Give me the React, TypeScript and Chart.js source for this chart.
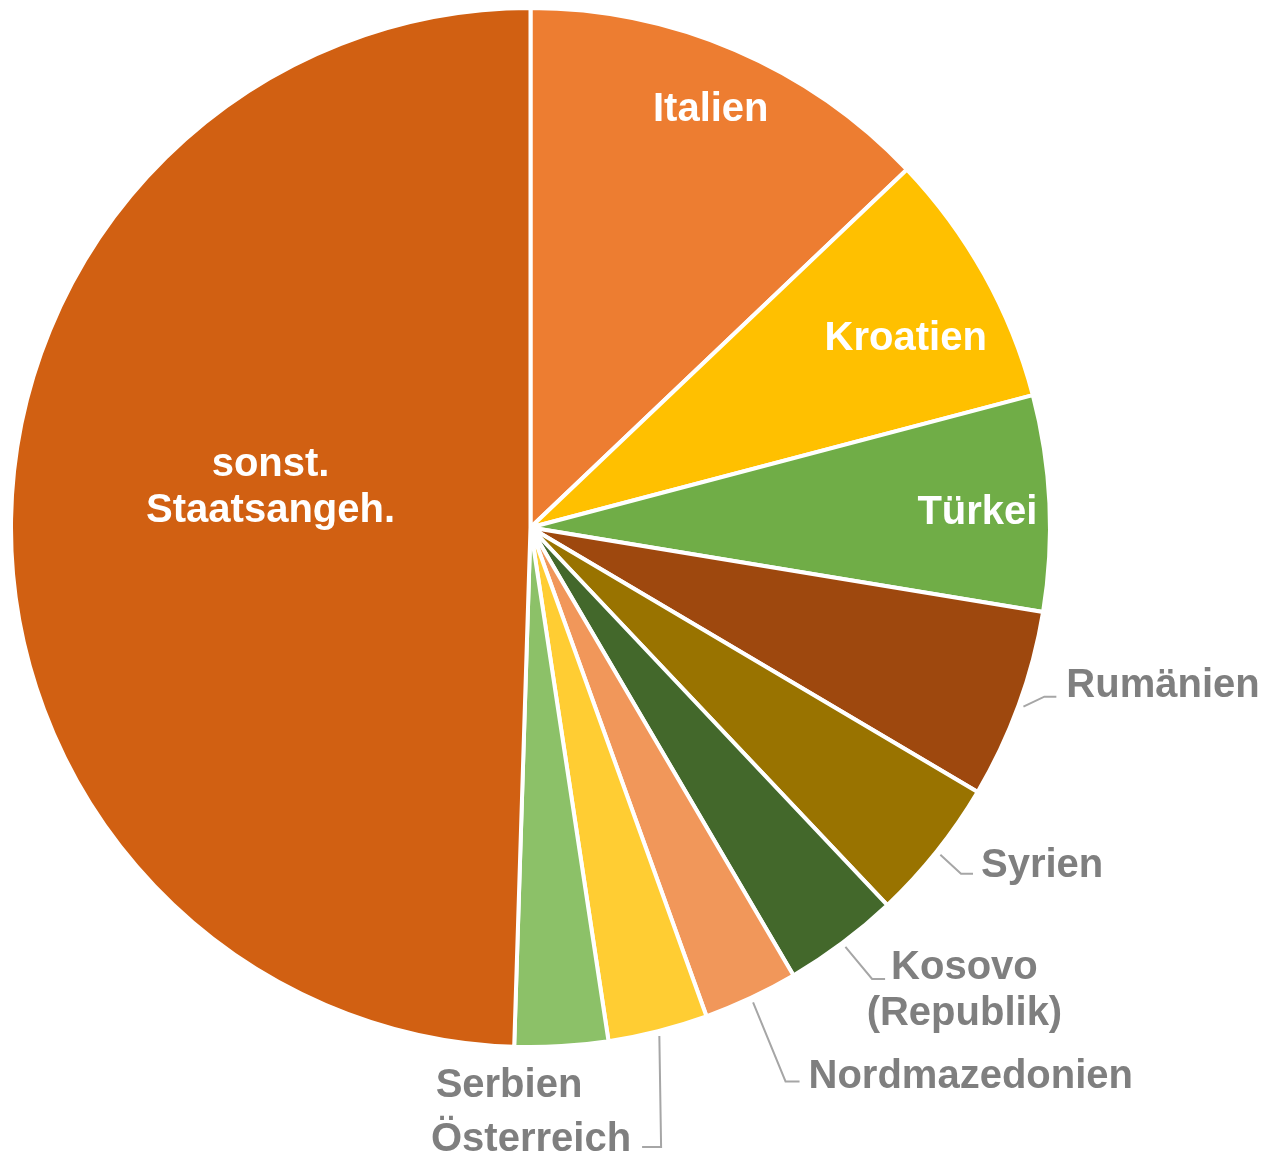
import React, { useEffect, useRef } from "react";
import { Chart, registerables } from "chart.js";

Chart.register(...registerables);

// ---- data ----
const categories = [
  "Italien",
  "Kroatien",
  "Türkei",
  "Rumänien",
  "Syrien",
  "Kosovo (Republik)",
  "Nordmazedonien",
  "Österreich",
  "Serbien",
  "sonst. Staatsangeh.",
];
const labelLines = [
  ["Italien"],
  ["Kroatien"],
  ["Türkei"],
  ["Rumänien"],
  ["Syrien"],
  ["Kosovo", "(Republik)"],
  ["Nordmazedonien"],
  ["Österreich"],
  ["Serbien"],
  ["sonst.", "Staatsangeh."],
];
const shares = [12.9, 8.0, 6.7, 5.9, 4.45, 3.6, 2.95, 3.1, 2.9, 49.5];
const sliceColors = [
  "#ED7D31",
  "#FFC000",
  "#70AD47",
  "#9E480E",
  "#997300",
  "#43682B",
  "#F1975A",
  "#FFCD33",
  "#8CC168",
  "#D16012",
];

// ---- label styling / placement ----
const FONT_SIZE = 40;
const LINE_H = 46;
const TEXT_DY = 3;
const TEXT_GRAY = "#7F7F7F";
const LEADER_GRAY = "#A6A6A6";

type Placement =
  | { kind: "inside"; r: number; dAng: number }
  | {
      kind: "outside";
      dx: number;
      dy: number;
      leader: boolean;
      dir: number;
      ly: number;
      eg: number;
      tg: number;
    };

const placements: Placement[] = [
  { kind: "inside", r: 0.88, dAng: 0 },
  { kind: "inside", r: 0.811, dAng: 2.1 },
  { kind: "inside", r: 0.861, dAng: 0.5 },
  { kind: "outside", dx: 139.6, dy: -24, leader: true, dir: 1, ly: 14, eg: 22, tg: 10 },
  { kind: "outside", dx: 101.8, dy: 8, leader: true, dir: 1, ly: 11, eg: 20, tg: 8 },
  { kind: "outside", dx: 119, dy: 18, leader: true, dir: 1, ly: 14, eg: 19, tg: 6 },
  { kind: "outside", dx: 217.7, dy: 72, leader: true, dir: 1, ly: 7, eg: 23, tg: 9 },
  { kind: "outside", dx: -128.3, dy: 101, leader: true, dir: -1, ly: 10, eg: 30, tg: 11 },
  { kind: "outside", dx: -52.8, dy: 32, leader: false, dir: 1, ly: 0, eg: 0, tg: 0 },
  { kind: "inside", r: 0.507, dAng: 8.4 },
];

const labelPlugin = {
  id: "sliceLabels",
  afterDatasetsDraw(chart: any) {
    const ctx: CanvasRenderingContext2D = chart.ctx;
    const meta = chart.getDatasetMeta(0);
    ctx.save();
    ctx.font = `bold ${FONT_SIZE}px "Liberation Sans", Arial, sans-serif`;
    ctx.textBaseline = "middle";
    ctx.textAlign = "center";
    meta.data.forEach((arc: any, i: number) => {
      const p = arc.getProps(["x", "y", "startAngle", "endAngle", "outerRadius"], true);
      const lines = labelLines[i];
      const cfg = placements[i];
      const mid = (p.startAngle + p.endAngle) / 2;
      if (cfg.kind === "inside") {
        const a = mid + (cfg.dAng * Math.PI) / 180;
        const r = p.outerRadius * cfg.r;
        const cx = p.x + r * Math.cos(a);
        const cy = p.y + r * Math.sin(a);
        const y0 = cy - ((lines.length - 1) * LINE_H) / 2;
        ctx.fillStyle = "#FFFFFF";
        lines.forEach((t, k) => ctx.fillText(t, cx, y0 + k * LINE_H + TEXT_DY));
      } else {
        const R = p.outerRadius + 5;
        const ex = p.x + R * Math.cos(mid);
        const ey = p.y + R * Math.sin(mid);
        const cx = ex + cfg.dx;
        const cy = ey + cfg.dy;
        if (cfg.leader) {
          const w = ctx.measureText(lines[0]).width;
          const near = cx - (cfg.dir * w) / 2;
          const ly = cy + cfg.ly;
          ctx.strokeStyle = LEADER_GRAY;
          ctx.lineWidth = 2;
          ctx.beginPath();
          ctx.moveTo(ex, ey);
          ctx.lineTo(near - cfg.dir * cfg.eg, ly);
          ctx.lineTo(near - cfg.dir * cfg.tg, ly);
          ctx.stroke();
        }
        ctx.fillStyle = TEXT_GRAY;
        lines.forEach((t, k) => ctx.fillText(t, cx, cy + k * LINE_H + TEXT_DY));
      }
    });
    ctx.restore();
  },
};

export default function App() {
  const canvasRef = useRef<HTMLCanvasElement | null>(null);

  useEffect(() => {
    if (!canvasRef.current) return;
    const chart = new Chart(canvasRef.current, {
      type: "pie",
      data: {
        labels: categories,
        datasets: [
          {
            data: shares,
            backgroundColor: sliceColors,
            borderColor: "#FFFFFF",
            borderWidth: 4,
          },
        ],
      },
      options: {
        responsive: false,
        animation: false,
        layout: { padding: { left: 1, top: 0, right: 211, bottom: 109 } },
        plugins: {
          legend: { display: false },
          tooltip: { enabled: false },
        },
      },
      plugins: [labelPlugin],
    });
    return () => chart.destroy();
  }, []);

  return (
    <div style={{ marginTop: -2 }}>
      <canvas ref={canvasRef} width={1255} height={1152} style={{ display: "block" }} />
    </div>
  );
}
